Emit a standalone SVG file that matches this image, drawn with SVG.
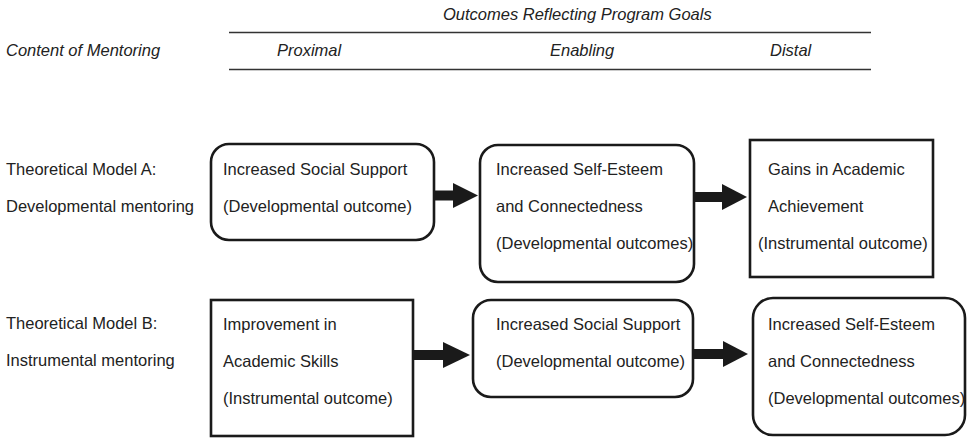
<svg xmlns="http://www.w3.org/2000/svg" width="968" height="438" viewBox="0 0 968 438">
<style>
text{font-family:"Liberation Sans",Arial,sans-serif;font-size:16.5px;fill:#222}
.it{font-style:italic}
.box{fill:#fff;stroke:#1a1a1a;stroke-width:2.6}
.rule{stroke:#333;stroke-width:1.6}
.shaft{stroke:#1a1a1a;stroke-width:10}
.head{fill:#1a1a1a}
</style>
<rect width="968" height="438" fill="#fff"/>
<g id="header">
<text class="it" x="443" y="20">Outcomes Reflecting Program Goals</text>
<line class="rule" x1="229" y1="32.5" x2="871" y2="32.5"/>
<text class="it" x="6" y="56">Content of Mentoring</text>
<text class="it" x="277" y="56">Proximal</text>
<text class="it" x="550" y="56">Enabling</text>
<text class="it" x="770" y="56">Distal</text>
<line class="rule" x1="229" y1="69.5" x2="871" y2="69.5"/>
</g>
<g id="labelA">
<text x="6" y="175">Theoretical Model A:</text>
<text x="6" y="212">Developmental mentoring</text>
</g>
<g id="labelB">
<text x="6" y="329">Theoretical Model B:</text>
<text x="6" y="366">Instrumental mentoring</text>
</g>
<g id="A1">
<rect class="box" x="211" y="144" width="223" height="96" rx="18"/>
<text x="223" y="175">Increased Social Support</text>
<text x="223" y="212">(Developmental outcome)</text>
</g>
<g id="A2">
<rect class="box" x="480" y="145" width="214" height="137" rx="18"/>
<text x="496" y="175">Increased Self-Esteem</text>
<text x="496" y="212">and Connectedness</text>
<text x="496" y="249">(Developmental outcomes)</text>
</g>
<g id="A3">
<rect class="box" x="750" y="140" width="183" height="137"/>
<text x="768" y="175">Gains in Academic</text>
<text x="768" y="212">Achievement</text>
<text x="758" y="249">(Instrumental outcome)</text>
</g>
<g id="B1">
<rect class="box" x="211" y="300" width="202" height="136"/>
<text x="223" y="330">Improvement in</text>
<text x="223" y="367">Academic Skills</text>
<text x="223" y="404">(Instrumental outcome)</text>
</g>
<g id="B2">
<rect class="box" x="473" y="300" width="220" height="97" rx="18"/>
<text x="496" y="330">Increased Social Support</text>
<text x="496" y="367">(Developmental outcome)</text>
</g>
<g id="B3">
<rect class="box" x="753" y="298" width="212" height="137" rx="20"/>
<text x="768" y="330">Increased Self-Esteem</text>
<text x="768" y="367">and Connectedness</text>
<text x="768" y="404">(Developmental outcomes)</text>
</g>
<g id="connectors">
<line class="shaft" x1="435" y1="195.5" x2="456" y2="195.5"/>
<polygon class="head" points="453,183 478,195.5 453,208"/>
<line class="shaft" x1="695" y1="197" x2="725" y2="197"/>
<polygon class="head" points="722,184 747,197 722,210"/>
<line class="shaft" x1="414" y1="355" x2="446" y2="355"/>
<polygon class="head" points="443,342 470,355 443,368"/>
<line class="shaft" x1="694" y1="354" x2="726" y2="354"/>
<polygon class="head" points="723,341 748,354 723,367"/>
</g>
</svg>
